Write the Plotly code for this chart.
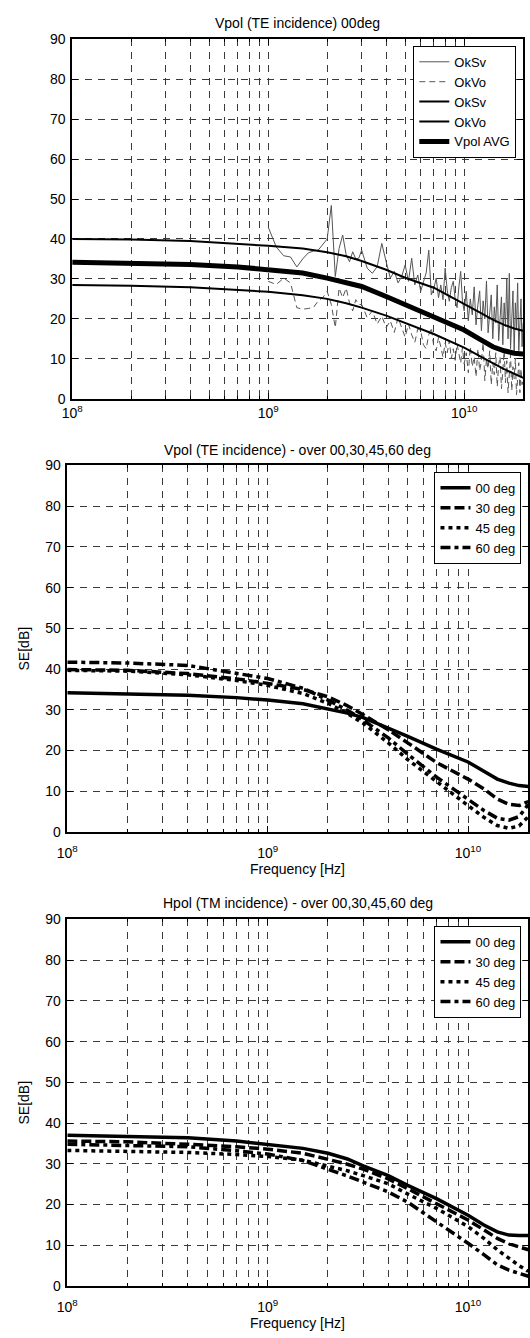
import numpy as np
import plotly.graph_objects as go

W, H = 530, 1338
FONT = "Liberation Sans"
FS = 14
LFS = 13

# ---------------- data ----------------
# Frequency grid for the fitted / averaged curves [Hz]
freq_fit = [1e8, 2e8, 4e8, 7e8, 1e9, 1.5e9, 2e9, 2.5e9, 3e9, 4e9, 5e9, 7e9,
            1e10, 1.2e10, 1.4e10, 1.6e10, 1.8e10, 2e10]

# Vpol (TE) 00 deg: fitted OkSv / OkVo curves
oksv_fit = [40.0, 39.9, 39.5, 38.8, 38.3, 37.6, 36.7, 35.7, 34.5, 32.3, 30.3, 27.8,
            23.8, 21.6, 19.8, 18.5, 17.6, 17.0]
okvo_fit = [28.5, 28.3, 27.9, 27.3, 26.8, 25.9, 25.0, 23.9, 22.8, 20.8, 19.0, 16.2,
            12.8, 10.6, 8.9, 7.4, 6.2, 5.2]

# Vpol (TE incidence) vs angle (00 deg is also the Vpol average)
te_00 = [34.2, 34.0, 33.6, 33.0, 32.4, 31.5, 30.2, 29.2, 28.1, 25.6, 23.5, 20.3,
         17.2, 14.9, 13.0, 12.0, 11.4, 11.2]
te_30 = [39.9, 39.7, 38.9, 37.6, 36.5, 35.0, 33.2, 31.0, 28.8, 25.1, 21.9, 17.0,
         13.0, 10.6, 8.1, 6.8, 6.5, 7.5]
te_45 = [39.7, 39.5, 38.6, 37.2, 36.0, 34.0, 31.6, 29.1, 26.7, 21.9, 17.8, 12.2,
         6.5, 3.6, 1.6, 0.9, 1.5, 3.8]
te_60 = [41.7, 41.5, 40.9, 39.0, 37.7, 35.3, 32.4, 29.9, 27.5, 23.1, 19.1, 13.4,
         8.1, 5.3, 3.4, 2.9, 3.8, 6.8]

# Hpol (TM incidence) vs angle
tm_00 = [37.0, 36.8, 36.4, 35.6, 34.8, 33.8, 32.6, 31.2, 29.5, 27.1, 24.7, 21.4,
         17.4, 15.0, 13.3, 12.5, 12.4, 12.4]
tm_30 = [35.6, 35.4, 34.8, 34.2, 33.6, 32.6, 31.1, 29.9, 28.7, 26.3, 23.9, 20.2,
         16.2, 13.8, 11.7, 10.4, 9.5, 8.9]
tm_45 = [33.3, 33.1, 32.8, 32.3, 31.8, 30.9, 29.5, 28.3, 27.1, 25.1, 22.6, 19.0,
         14.6, 11.7, 8.9, 6.8, 5.0, 3.6]
tm_60 = [34.8, 34.6, 34.2, 33.2, 32.4, 30.8, 28.7, 27.0, 25.5, 23.1, 20.6, 15.8,
         10.5, 7.7, 5.2, 3.9, 3.0, 2.4]

# Measured points [GHz]
freq_meas_ghz = [
    1.0, 1.1, 1.2, 1.3, 1.4, 1.5, 1.6, 1.7, 1.8, 1.9, 2.0, 2.1, 2.2, 2.3, 2.4, 2.5, 2.6, 2.7, 2.8, 2.9, 3.0,
    3.2, 3.4, 3.6, 3.8, 4.0, 4.2, 4.4, 4.6, 4.8, 5.0, 5.2, 5.4, 5.6, 5.8, 6.0, 6.2, 6.4, 6.6, 6.8, 7.0,
    7.2, 7.4, 7.6, 7.8, 8.0, 8.2, 8.4, 8.6, 8.8, 9.0, 9.2, 9.4, 9.6, 9.8, 10.0,
    10.25, 10.5, 10.75, 11.0, 11.25, 11.5, 11.75, 12.0, 12.25, 12.5, 12.75, 13.0, 13.25, 13.5, 13.75,
    14.0, 14.25, 14.5, 14.75, 15.0, 15.25, 15.5, 15.75, 16.0, 16.25, 16.5, 16.75, 17.0, 17.25, 17.5,
    17.75, 18.0, 18.25, 18.5, 18.75, 19.0, 19.25, 19.5, 19.75, 20.0,
]
oksv_meas = [
    43.0, 38.0, 35.8, 35.5, 33.0, 35.0, 36.5, 37.0, 37.2, 38.5, 40.0, 48.4, 30.6, 37.6, 41.0, 36.0, 34.3, 36.8, 35.0, 35.2, 37.2,
    32.7, 31.4, 33.1, 38.9, 34.3, 30.2, 31.9, 29.0, 30.6, 33.5, 29.4, 35.2, 28.5, 31.0, 26.9, 29.4, 31.5, 37.2, 26.0, 27.5,
    30.2, 25.3, 28.5, 24.8, 32.7, 27.0, 24.4, 27.8, 29.4, 25.0, 22.8, 28.0, 31.9, 24.5, 22.0,
    26.9, 19.5, 25.0, 21.0, 28.0, 18.5, 23.5, 27.0, 17.0, 24.5, 20.0, 29.5, 16.5, 22.5, 26.0,
    15.0, 23.0, 19.0, 28.5, 14.5, 21.5, 25.5, 13.5, 24.0, 18.0, 30.0, 15.0, 31.4, 12.5, 22.0,
    27.0, 11.5, 24.0, 17.5, 29.0, 12.0, 21.0, 25.0, 13.0, 19.0,
]
okvo_meas = [
    29.4, 28.6, 30.2, 29.0, 22.8, 22.4, 22.6, 22.8, 24.5, 25.3, 26.9, 23.6, 17.8, 27.7, 25.3, 27.7, 24.0, 22.0, 24.8, 23.6, 23.6,
    20.3, 22.0, 18.7, 20.7, 17.8, 19.5, 16.6, 20.3, 18.0, 15.4, 18.7, 16.0, 14.1, 17.5, 17.0, 13.5, 12.5, 16.0, 17.8, 13.0,
    12.0, 15.4, 13.0, 10.4, 14.0, 11.5, 14.5, 10.0, 12.5, 9.6, 13.7, 11.0, 8.9, 12.8, 8.7,
    11.5, 6.5, 13.0, 8.0, 10.5, 5.5, 12.5, 7.0, 9.5, 14.0, 4.5, 10.0, 7.5, 12.0, 3.5,
    9.0, 6.0, 11.5, 3.0, 8.5, 10.5, 2.5, 7.0, 12.0, 4.0, 9.5, 1.5, 6.5, 11.0, 2.0,
    8.0, 5.0, 10.0, 1.0, 6.0, 9.0, 1.5, 7.5, 3.5, 5.0,
]

angle_labels = ["00 deg", "30 deg", "45 deg", "60 deg"]
titles = [
    "Vpol (TE incidence) 00deg",
    "Vpol (TE incidence) - over 00,30,45,60 deg",
    "Hpol (TM incidence) - over 00,30,45,60 deg",
]
y_ticks = list(range(0, 91, 10))
decade_vals = [1e8, 1e9, 1e10]
decade_text = ["10<sup>8</sup>", "10<sup>9</sup>", "10<sup>10</sup>"]

# ---------------- layout geometry (pixels) ----------------
# (left, right, top, bottom) of each axes box
boxes = [(62.5, 523.0, 31.8, 395.4), (57.5, 528.3, 463.0, 834.0), (57.5, 528.3, 922.5, 1293.5)]
tick_standoff = [1, 7, 7]


def px_x(x):
    return x / W


def px_y(y):
    return 1 - y / H


minor_vals = [m * 10.0 ** e for e in (8, 9, 10) for m in range(2, 10) if m * 10.0 ** e <= 2e10]
GRID = "#3a3a3a"
GDASH = "7px,6px"

fig = go.Figure()

# --- panel 1: measured, fitted and averaged curves ---
freq_meas = [f * 1e9 for f in freq_meas_ghz]
fig.add_trace(go.Scatter(x=freq_meas, y=oksv_meas, name="OkSv", mode="lines",
                         line=dict(color="#555555", width=1), xaxis="x", yaxis="y", legend="legend"))
fig.add_trace(go.Scatter(x=freq_meas, y=okvo_meas, name="OkVo", mode="lines",
                         line=dict(color="#555555", width=1, dash="6px,4px"), xaxis="x", yaxis="y", legend="legend"))
fig.add_trace(go.Scatter(x=freq_fit, y=oksv_fit, name="OkSv", mode="lines",
                         line=dict(color="black", width=2), xaxis="x", yaxis="y", legend="legend"))
fig.add_trace(go.Scatter(x=freq_fit, y=okvo_fit, name="OkVo", mode="lines",
                         line=dict(color="black", width=2), xaxis="x", yaxis="y", legend="legend"))
fig.add_trace(go.Scatter(x=freq_fit, y=te_00, name="Vpol AVG", mode="lines",
                         line=dict(color="black", width=5), xaxis="x", yaxis="y", legend="legend"))

dashes = ["solid", "10px,4px", "4px,4px", "10px,4px,4px,4px"]

# --- panels 2 and 3: angle comparison ---
for series, ax in [((te_00, te_30, te_45, te_60), "2"), ((tm_00, tm_30, tm_45, tm_60), "3")]:
    for vals, lab, dsh in zip(series, angle_labels, dashes):
        fig.add_trace(go.Scatter(x=freq_fit, y=vals, name=lab, mode="lines",
                                 line=dict(color="black", width=3.5, dash=dsh),
                                 xaxis="x" + ax, yaxis="y" + ax, legend="legend" + ax))

layout = dict(
    width=W, height=H, margin=dict(l=0, r=0, t=0, b=0),
    paper_bgcolor="white", plot_bgcolor="white",
    font=dict(family=FONT, size=FS, color="black"),
    showlegend=True,
)

for i, (l, r, t, b) in enumerate(boxes):
    sx = "" if i == 0 else str(i + 1)
    layout["xaxis" + sx] = dict(
        type="log", range=[8, np.log10(2e10)], domain=[px_x(l), px_x(r)],
        anchor="y" + sx,
        tickmode="array", tickvals=decade_vals, ticktext=decade_text,
        ticks="inside", ticklen=6, tickwidth=1, tickcolor="black",
        showline=True, linecolor="black", linewidth=1.5, mirror="ticks",
        showgrid=True, gridcolor=GRID, gridwidth=1, griddash=GDASH,
        minor=dict(tickmode="array", tickvals=minor_vals, ticks="inside", ticklen=3,
                   tickcolor="black", showgrid=True, gridcolor=GRID, gridwidth=1, griddash=GDASH),
        zeroline=False, ticklabelstandoff=tick_standoff[i],
        tickfont=dict(family=FONT, size=FS, color="black"),
    )
    layout["yaxis" + sx] = dict(
        range=[0, 90], domain=[px_y(b), px_y(t)], anchor="x" + sx,
        tickmode="array", tickvals=y_ticks,
        ticks="inside", ticklen=6, tickwidth=1, tickcolor="black",
        showline=True, linecolor="black", linewidth=1.5, mirror="ticks",
        showgrid=True, gridcolor=GRID, gridwidth=1, griddash=GDASH,
        zeroline=False, ticklabelstandoff=2,
        tickfont=dict(family=FONT, size=FS, color="black"),
    )
    lg = "legend" if i == 0 else "legend" + str(i + 1)
    layout[lg] = dict(
        x=px_x(r - 7), y=px_y(t + 6.5), xanchor="right", yanchor="top",
        bgcolor="white", bordercolor="black", borderwidth=1,
        font=dict(family=FONT, size=LFS, color="black"),
        itemwidth=30, tracegroupgap=0,
    )

annotations = []
title_y = [15.2, 447.5, 906.0]
for i, (l, r, t, b) in enumerate(boxes):
    annotations.append(dict(text=titles[i], x=px_x((l + r) / 2), y=px_y(title_y[i]),
                            xref="paper", yref="paper", showarrow=False,
                            xanchor="center", yanchor="middle",
                            font=dict(family=FONT, size=FS, color="black")))
for i in (1, 2):
    l, r, t, b = boxes[i]
    annotations.append(dict(text="SE[dB]", x=px_x(13), y=px_y((t + b) / 2), textangle=-90,
                            xref="paper", yref="paper", showarrow=False,
                            xanchor="center", yanchor="middle",
                            font=dict(family=FONT, size=FS, color="black")))
    annotations.append(dict(text="Frequency [Hz]", x=px_x((l + r) / 2), y=px_y(b + 37),
                            xref="paper", yref="paper", showarrow=False,
                            xanchor="center", yanchor="middle",
                            font=dict(family=FONT, size=FS, color="black")))
layout["annotations"] = annotations

fig.update_layout(**layout)
fig.write_html("out.html")
